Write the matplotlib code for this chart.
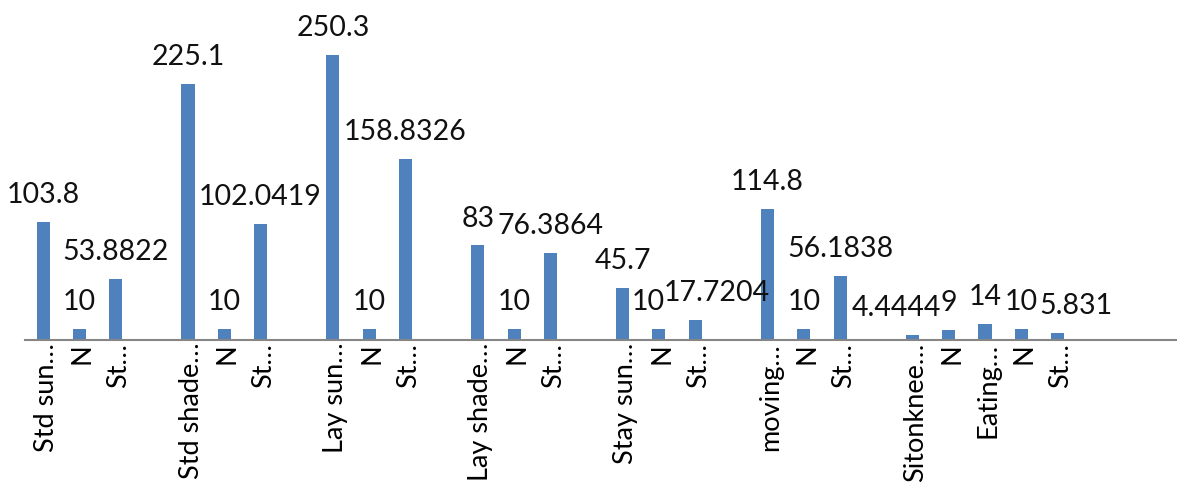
import matplotlib
matplotlib.use("Agg")
import matplotlib.pyplot as plt
import matplotlib.transforms as mtransforms

plt.rcParams["font.family"] = ["Lato", "DejaVu Sans"]

# one slot per category; empty strings are spacer slots between groups
categories = ["Std sun…", "N", "St…", "",
              "Std shade…", "N", "St…", "",
              "Lay sun…", "N", "St…", "",
              "Lay shade…", "N", "St…", "",
              "Stay sun…", "N", "St…", "",
              "moving…", "N", "St…", "",
              "Sitonknee…", "N", "Eating…", "N", "St…"]
values = [103.8, 10, 53.8822, None,
          225.1, 10, 102.0419, None,
          250.3, 10, 158.8326, None,
          83, 10, 76.3864, None,
          45.7, 10, 17.7204, None,
          114.8, 10, 56.1838, None,
          4.4444, 9, 14, 10, 5.831]

# sideways shift (in slots) for labels pushed aside to avoid overlap
label_shift = {17: -0.3, 18: 0.6, 24: -0.45, 28: 0.5}

fig = plt.figure(figsize=(11.77, 4.86), dpi=100)
ax = fig.add_axes([25 / 1177, 146 / 486, 1 - 25 / 1177, 340 / 486])

xs = [i for i, v in enumerate(values) if v is not None]
hs = [v for v in values if v is not None]
ax.bar(xs, hs, width=0.36, color="#4f81bd", zorder=2)

for x, h in zip(xs, hs):
    ax.annotate(str(h), (x + label_shift.get(x, 0), h),
                xytext=(0, 10), textcoords="offset points",
                ha="center", va="bottom", fontsize=20.5, color="#111111")

ax.set_xlim(-0.5, 31.3)
ax.set_ylim(0, 298.5)
ax.set_xticks(range(len(categories)))
ax.set_xticklabels(categories, rotation=90, fontsize=19.5, va="top", ha="center")
ax.tick_params(axis="x", length=0, pad=2)
ax.set_yticks([])

# nudge the sideways category names a little to the right
nudge = mtransforms.ScaledTranslation(3 / 100, 0, fig.dpi_scale_trans)
for lbl in ax.get_xticklabels():
    lbl.set_transform(lbl.get_transform() + nudge)

for side in ("top", "right", "left"):
    ax.spines[side].set_visible(False)
ax.spines["bottom"].set_color("#868686")
ax.spines["bottom"].set_linewidth(1.5)

fig.savefig("out.png", dpi=100)
